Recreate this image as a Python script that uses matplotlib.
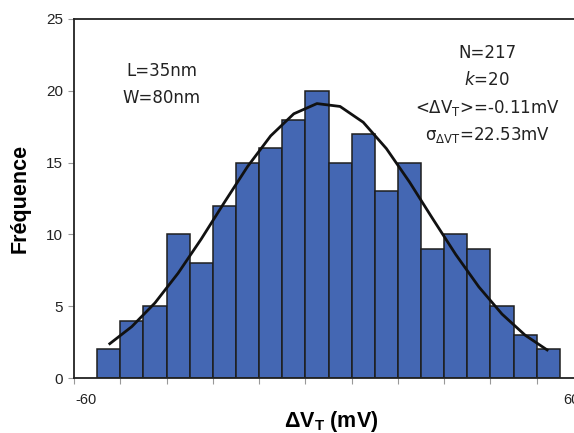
import numpy as np
import matplotlib
matplotlib.use("Agg")
import matplotlib.pyplot as plt

# ---- data ----
counts = [2, 4, 5, 10, 8, 12, 15, 16, 18, 20, 15, 17, 13, 15, 9, 10, 9, 5, 3, 2]
fit_curve = [2.33, 3.58, 5.23, 7.30, 9.68, 12.23, 14.72, 16.86, 18.40, 19.11,
             18.91, 17.81, 15.98, 13.65, 11.10, 8.60, 6.34, 4.45, 2.98, 1.90]
x_tick_labels = ["-60", "60"]
y_ticks = [0, 5, 10, 15, 20, 25]
left_text = ["L=35nm", "W=80nm"]
right_text = ["N=217", r"$k$=20", r"<$\Delta$V$_\mathrm{T}$>=-0.11mV",
              r"σ$_{\mathrm{\Delta VT}}$=22.53mV"]

plt.rcParams["mathtext.fontset"] = "custom"
plt.rcParams["mathtext.rm"] = "Liberation Sans"
plt.rcParams["mathtext.bf"] = "Liberation Sans:bold"
plt.rcParams["mathtext.it"] = "Liberation Sans:italic"

W, H = 574, 433
fig = plt.figure(figsize=(W / 100, H / 100), dpi=100)
ax = fig.add_axes([74 / W, 1 - 378 / H, (583 - 74) / W, (378 - 19) / H])

positions = np.arange(1, len(counts) + 1)
ax.bar(positions, counts, width=1.0, color="#4467B3", edgecolor="#1e1e1e",
       linewidth=1.1, zorder=2)
ax.plot(positions, fit_curve, color="#111111", linewidth=2.0, zorder=3,
        solid_capstyle="butt", solid_joinstyle="round")

ax.set_xlim(-0.5, len(counts) + 1.5)
ax.set_ylim(0, 25)

# x ticks: labels on first & last category, tick marks every 2 categories
ax.set_xticks([0, len(counts) + 1])
ax.set_xticklabels(x_tick_labels, fontsize=10.5, family="Liberation Sans", color="#222222")
ax.set_xticks(np.arange(-0.5, len(counts) + 2, 2), minor=True)
ax.tick_params(axis="x", which="major", length=0, pad=11)
ax.tick_params(axis="x", which="minor", length=4, width=0.8, color="#999999", direction="out")

ax.set_yticks(y_ticks)
ax.set_yticklabels([str(v) for v in y_ticks], fontsize=11, family="Liberation Sans", color="#222222")
ax.tick_params(axis="y", length=4, width=0.8, color="#999999", direction="out", pad=4)

for s in ["left", "bottom", "top"]:
    ax.spines[s].set_linewidth(1.3)
    ax.spines[s].set_color("#222222")
ax.spines["right"].set_visible(False)

ax.set_ylabel("Fréquence", fontsize=15.5, fontweight="bold", family="Liberation Sans")
ax.yaxis.set_label_coords(-0.086, 0.5)
fig.text(331 / W, 1 - 422 / H, r"$\mathbf{\Delta V}_\mathbf{T}$ (mV)", fontsize=15.5,
         fontweight="bold", family="Liberation Sans", ha="center", va="center")

for i, t in enumerate(left_text):
    fig.text(162 / W, 1 - (71 + 27 * i) / H, t, fontsize=12, family="DejaVu Sans",
             ha="center", va="center", color="#222222")
for i, t in enumerate(right_text):
    fig.text(487 / W, 1 - (53 + 27.3 * i) / H, t, fontsize=12, family="DejaVu Sans",
             ha="center", va="center", color="#222222", math_fontfamily="dejavusans")

fig.savefig("out.png", dpi=100)
